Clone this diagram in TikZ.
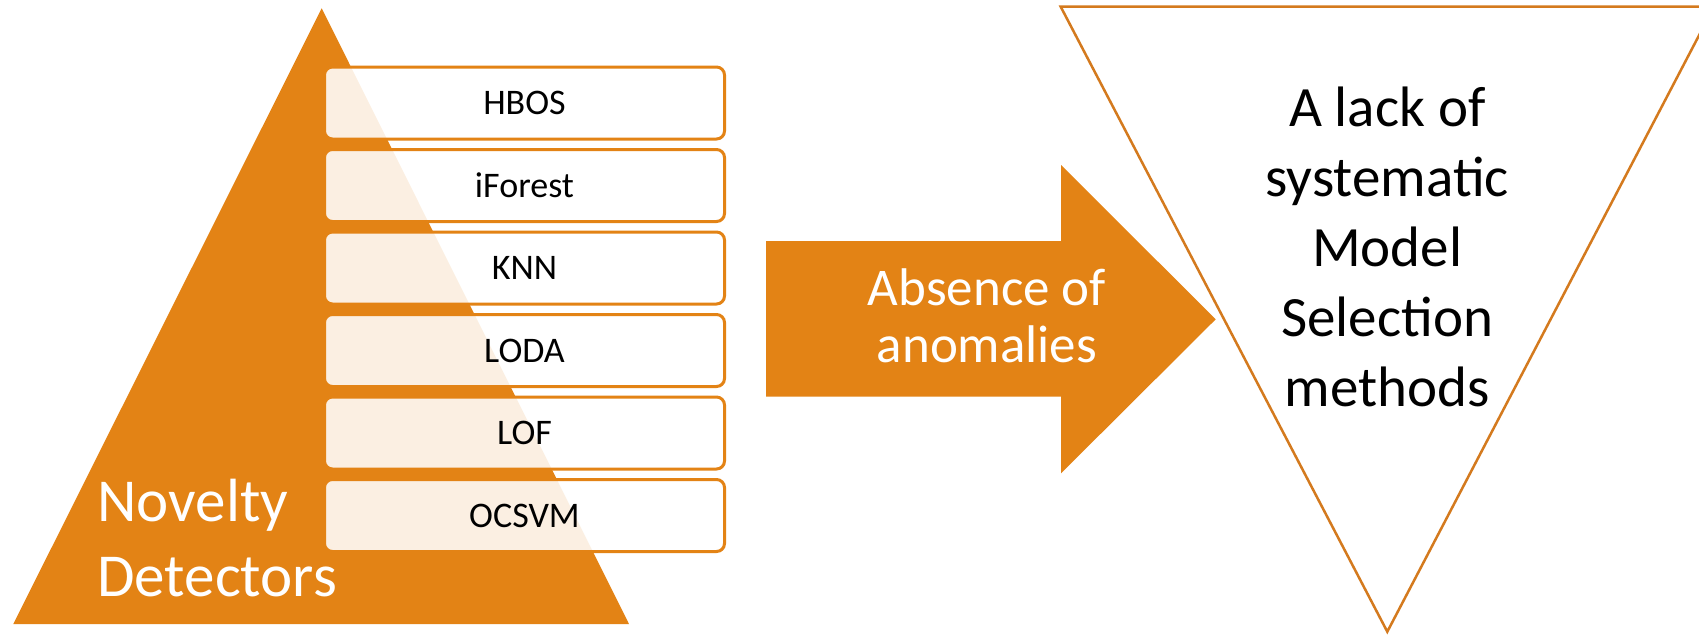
\documentclass[tikz,border=0pt]{standalone}
\usepackage{fontspec}
\setmainfont{Carlito}
\definecolor{accent}{RGB}{227,131,21}
\definecolor{accentline}{RGB}{212,122,30}
\tikzset{
  detector/.style={draw=accent, line width=1.5pt, fill=white, fill opacity=0.88,
    text opacity=1, rounded corners=4pt, minimum width=200pt, minimum height=36pt,
    inner sep=0pt, font=\fontsize{18}{21}\selectfont, text=black},
  bigwhite/.style={text=white, inner sep=0pt},
}
\begin{document}
\begin{tikzpicture}[x=0.5pt, y=-0.5pt]
  \clip (0,0) rectangle (1699,634);
  \fill[white] (0,0) rectangle (1699,634);

  % pyramid of detectors
  \fill[accent] (321.7,8.3) -- (629,624) -- (13.3,624) -- cycle;

  % detector bars
  \foreach \name/\lbl/\yc in {b1/HBOS/103, b2/iForest/185.5, b3/KNN/268,
                              b4/LODA/350.5, b5/LOF/433, b6/OCSVM/515.5}
    \node[detector] (\name) at (524.5,\yc) {\lbl};

  % multi-line labels are placed by the baseline of their last line
  \node[bigwhite, anchor=base west, align=left,
        font=\fontsize{30.5}{37.85}\selectfont] (nov) at (97,596.7)
        {Novelty\\Detectors};

  % block arrow
  \fill[accent] (766,241) -- (1061,241) -- (1061,165) -- (1215.7,319.3)
        -- (1061,473.3) -- (1061,396.7) -- (766,396.7) -- cycle;
  \node[bigwhite, anchor=base, align=center,
        font=\fontsize{26.5}{28.85}\selectfont] (abs) at (987,362.7)
        {Absence of\\anomalies};

  % inverted triangle
  \draw[accentline, line width=1.25pt, line join=miter]
        (1060.7,6.7) -- (1714,6.7) -- (1387.3,631.7) -- cycle;
  \node[anchor=base, align=center, inner sep=0pt, text=black,
        font=\fontsize{28.5}{35}\selectfont] (lack) at (1387.3,406.7)
        {A lack of\\systematic\\Model\\Selection\\methods};
\end{tikzpicture}
\end{document}
